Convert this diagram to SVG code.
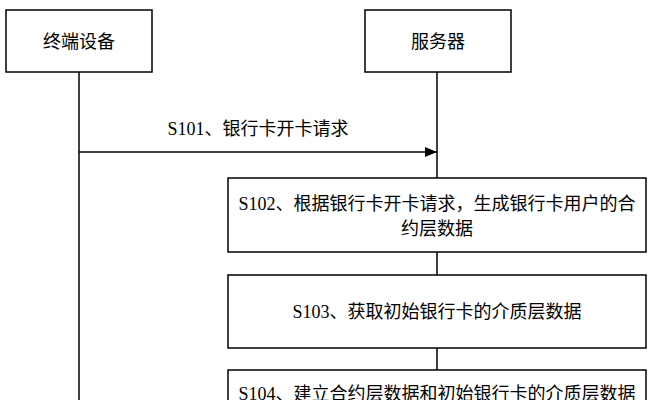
<svg xmlns="http://www.w3.org/2000/svg" width="652" height="400" viewBox="0 0 652 400">
<defs>
<style>
rect{fill:#fff;stroke:#000;stroke-width:1.5}
line{stroke:#000;stroke-width:1.5}
text{font-family:"Liberation Serif","Noto Sans CJK SC",serif;font-size:18px;fill:#000;text-anchor:middle}
</style>
<marker id="ah" markerWidth="12" markerHeight="10" refX="12" refY="5" orient="auto" markerUnits="userSpaceOnUse"><path d="M0,0 L12,5 L0,10 Z" fill="#000"/></marker>
</defs>
<rect width="652" height="400" style="fill:#fff;stroke:none"/>
<g id="connectors">
<line x1="79" y1="72" x2="79" y2="400"/>
<line x1="437" y1="72" x2="437" y2="178"/>
<line x1="437" y1="252" x2="437" y2="275"/>
<line x1="437" y1="348" x2="437" y2="370"/>
<line x1="79" y1="152" x2="437" y2="152" marker-end="url(#ah)"/>
<text x="258" y="135">S101、银行卡开卡请求</text>
</g>
<g id="terminal"><rect x="6" y="10" width="146" height="62"/><text x="79" y="48">终端设备</text></g>
<g id="server"><rect x="365" y="10" width="146" height="62"/><text x="438" y="48">服务器</text></g>
<g id="s102"><rect x="228" y="178" width="418" height="74"/><text x="437" y="210">S102、根据银行卡开卡请求，生成银行卡用户的合</text><text x="437" y="235">约层数据</text></g>
<g id="s103"><rect x="228" y="275" width="418" height="73"/><text x="437" y="318">S103、获取初始银行卡的介质层数据</text></g>
<g id="s104"><rect x="228" y="370" width="418" height="60"/><text x="437" y="400">S104、建立合约层数据和初始银行卡的介质层数据</text></g>
</svg>
